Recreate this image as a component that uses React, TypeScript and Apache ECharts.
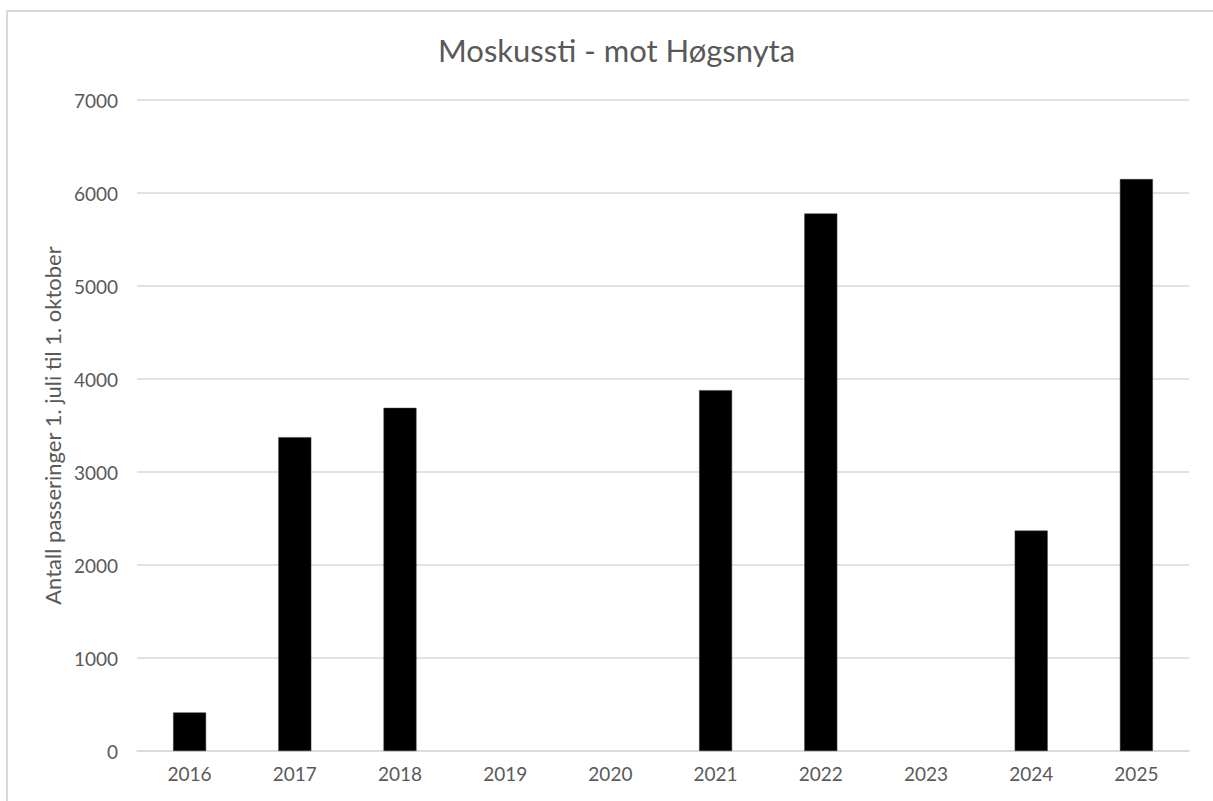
import React, { useEffect, useRef } from "react";
import * as echarts from "echarts";

const titleText = "Moskussti - mot Høgsnyta";
const yAxisName = "Antall passeringer 1. juli til 1. oktober";
const years = ["2016", "2017", "2018", "2019", "2020", "2021", "2022", "2023", "2024", "2025"];
const passes: (number | null)[] = [415, 3375, 3690, null, null, 3880, 5780, null, 2370, 6150];
const yMin = 0;
const yMax = 7000;
const yInterval = 1000;

export default function App() {
  const ref = useRef<HTMLDivElement>(null);
  useEffect(() => {
    document.body.style.margin = "0";
    document.body.style.overflow = "hidden";
    const chart = echarts.init(ref.current!, undefined, { renderer: "svg" });
    const font = "Lato, 'Liberation Sans', sans-serif";
    chart.setOption({
      animation: false,
      backgroundColor: "#ffffff",
      textStyle: { fontFamily: font },
      title: {
        text: titleText,
        left: 433,
        top: 29,
        textStyle: { fontSize: 31, fontWeight: "normal", color: "#595959", fontFamily: font },
      },
      grid: { left: 137, right: 24, top: 100, bottom: 50, containLabel: false },
      xAxis: {
        type: "category",
        data: years,
        axisLine: { show: true, lineStyle: { color: "#d9d9d9", width: 1.5 } },
        axisTick: { show: false },
        axisLabel: { color: "#595959", fontSize: 19, margin: 13, fontFamily: font },
      },
      yAxis: {
        type: "value",
        min: yMin,
        max: yMax,
        interval: yInterval,
        name: yAxisName,
        nameLocation: "middle",
        nameGap: 74,
        nameTextStyle: { color: "#595959", fontSize: 22, fontFamily: font },
        axisLine: { show: false },
        axisTick: { show: false },
        axisLabel: {
          color: "#595959",
          fontSize: 19,
          margin: 19,
          fontFamily: font,
          formatter: (v: number) => String(v),
        },
        splitLine: { lineStyle: { color: "#d9d9d9", width: 1.5 } },
      },
      series: [
        {
          type: "bar",
          data: passes,
          barWidth: 33,
          itemStyle: { color: "#000000", borderColor: "#404040", borderWidth: 0.5 },
        },
      ],
    });
    return () => chart.dispose();
  }, []);
  return (
    <div style={{ position: "relative", width: 1213, height: 801 }}>
      <div
        style={{
          position: "absolute",
          left: 6,
          top: 10,
          width: 1300,
          height: 900,
          borderTop: "2px solid #d9d9d9",
          borderLeft: "2px solid #d9d9d9",
          boxSizing: "border-box",
          pointerEvents: "none",
          zIndex: 2,
        }}
      />
      <div ref={ref} style={{ width: 1213, height: 801 }} />
    </div>
  );
}
